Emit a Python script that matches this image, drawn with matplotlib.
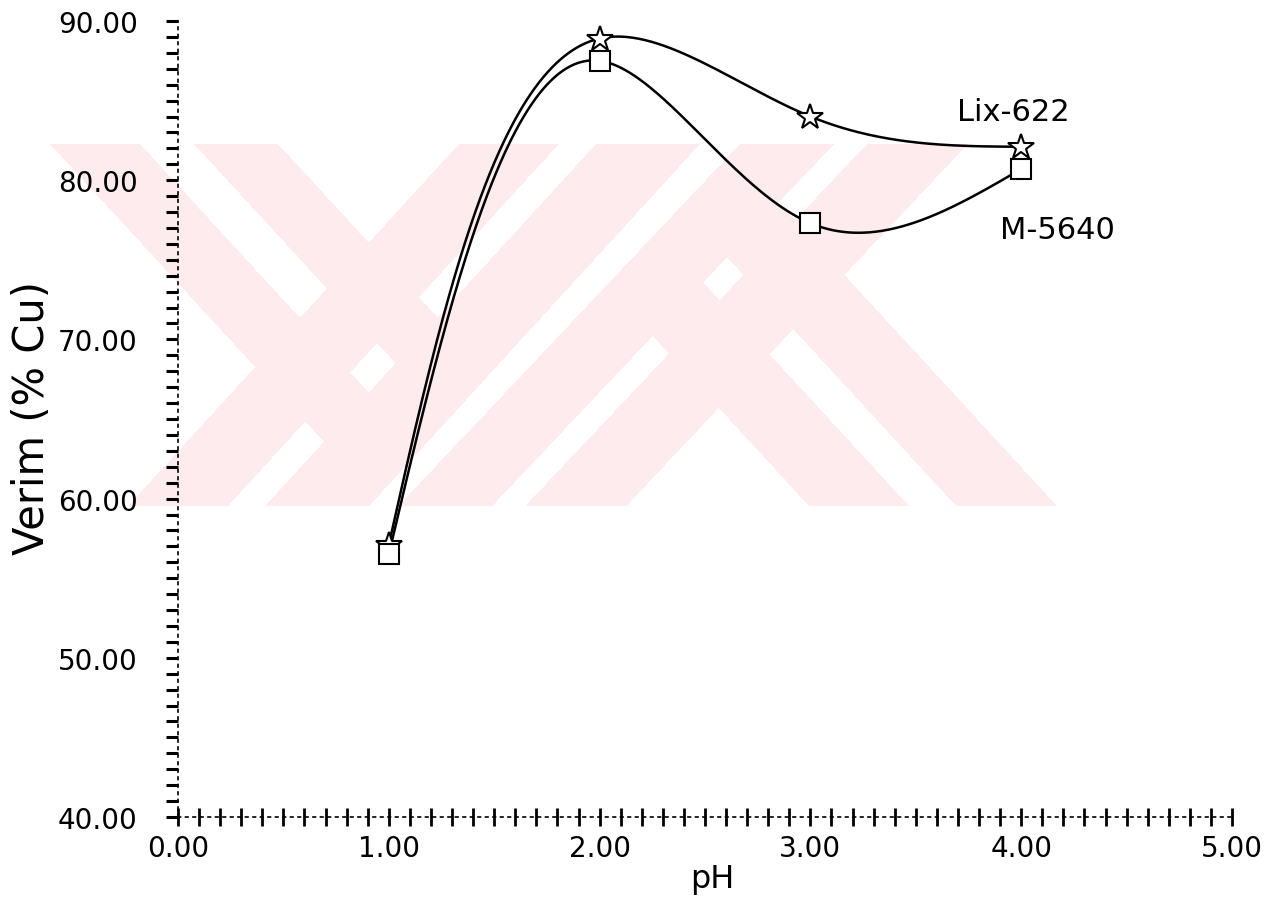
import numpy as np
import matplotlib
matplotlib.use("Agg")
import matplotlib.pyplot as plt
from matplotlib.ticker import MultipleLocator, FormatStrFormatter

# ---- data ----
ph = [1.0, 2.0, 3.0, 4.0]
lix622 = [57.1, 88.9, 84.0, 82.1]
m5640 = [56.5, 87.5, 77.3, 80.7]
xticks = [0, 1, 2, 3, 4, 5]
yticks = [40, 50, 60, 70, 80, 90]
series_names = ["Lix-622", "M-5640"]

plt.rcParams['font.family'] = ['DejaVu Sans']

W, H = 1286, 912
fig = plt.figure(figsize=(W / 100, H / 100), dpi=100)

# ---- pale watermark (decorative background) ----
bg = fig.add_axes([0, 0, 1, 1], zorder=0)
bg.set_xlim(0, W)
bg.set_ylim(H, 0)
bg.axis('off')
Yg, Xg = np.mgrid[0:H, 0:W] + 0.5
top, bot = 145, 507


def stripe(xl, xr, s):
    off = s * (Yg - top)
    return (Xg >= xl + off) & (Xg <= xr + off)


s1, s2, s3, s4 = 0.92, -0.914, 0.92, -0.944
S1 = (stripe(50, 140, s1) | stripe(194, 278, s1)) & (Xg <= 700 + s2 * (Yg - top))
S2 = stripe(459, 559, s2) | stripe(596, 700, s2)
S3 = (stripe(476, 576, s3) | stripe(623, 724, s3)) & (Xg >= 740 + s4 * (Yg - top))
S4 = stripe(740, 834, s4) | stripe(867, 968, s4)
mask = (S1 | S2 | S3 | S4) & (Yg >= top) & (Yg <= bot)
img = np.ones((H, W, 4))
img[..., 3] = 0
pink = np.array([253, 235, 238]) / 255.0
img[mask, :3] = pink
img[mask, 3] = 1
bg.imshow(img, extent=[0, W, H, 0], interpolation='nearest', aspect='auto')

# ---- main axes ----
ax = fig.add_axes([178 / W, 1 - 818 / H, (1232 - 178) / W, (818 - 22) / H], zorder=1)
ax.patch.set_alpha(0)
ax.set_xlim(0, 5)
ax.set_ylim(40, 90)


def natural_coeffs(t, y):
    k = len(t)
    h = np.diff(t)
    A = np.zeros((k, k))
    r = np.zeros(k)
    A[0, 0] = A[-1, -1] = 1
    for i in range(1, k - 1):
        A[i, i - 1] = h[i - 1]
        A[i, i] = 2 * (h[i - 1] + h[i])
        A[i, i + 1] = h[i]
        r[i] = 6 * ((y[i + 1] - y[i]) / h[i] - (y[i] - y[i - 1]) / h[i - 1])
    return np.linalg.solve(A, r)


def eval_spline(t, y, M, ts):
    h = np.diff(t)
    out = np.empty_like(ts)
    for j, tv in enumerate(ts):
        i = min(max(np.searchsorted(t, tv, side='right') - 1, 0), len(t) - 2)
        t1 = t[i + 1] - tv
        t0 = tv - t[i]
        out[j] = (M[i] * t1 ** 3 / (6 * h[i]) + M[i + 1] * t0 ** 3 / (6 * h[i])
                  + (y[i] / h[i] - M[i] * h[i] / 6) * t1
                  + (y[i + 1] / h[i] - M[i + 1] * h[i] / 6) * t0)
    return out


def smooth_curve(xv, yv, n=500, alpha=0.6):
    # parametric natural spline drawn in display space
    P = ax.transData.transform(np.column_stack([xv, yv]))
    d = np.sqrt((np.diff(P, axis=0) ** 2).sum(axis=1)) ** alpha
    t = np.concatenate([[0], np.cumsum(d)])
    ts = np.linspace(0, t[-1], n)
    cx = eval_spline(t, P[:, 0], natural_coeffs(t, P[:, 0]), ts)
    cy = eval_spline(t, P[:, 1], natural_coeffs(t, P[:, 1]), ts)
    return ax.transData.inverted().transform(np.column_stack([cx, cy]))


for vals, mk, ms in [(lix622, '*', 19), (m5640, 's', 14)]:
    c = smooth_curve(ph, vals)
    ax.plot(c[:, 0], c[:, 1], color='black', lw=1.8, zorder=3)
    ax.plot(ph, vals, linestyle='none', marker=mk, ms=ms, mfc='white',
            mec='black', mew=1.5, zorder=4)

ax.text(3.695, 84.3, series_names[0], fontsize=22, ha='left', va='center')
ax.text(3.9, 76.9, series_names[1], fontsize=22, ha='left', va='center')

# ---- axes styling ----
for side in ['top', 'right']:
    ax.spines[side].set_visible(False)
for side in ['left', 'bottom']:
    ax.spines[side].set_linestyle((0, (1.5, 3)))
    ax.spines[side].set_linewidth(1.2)

ax.set_xticks(xticks)
ax.set_yticks(yticks)
ax.xaxis.set_major_formatter(FormatStrFormatter('%.2f'))
ax.yaxis.set_major_formatter(FormatStrFormatter('%.2f'))
ax.xaxis.set_minor_locator(MultipleLocator(0.1))
ax.yaxis.set_minor_locator(MultipleLocator(1))
ax.tick_params(axis='x', which='both', direction='inout', length=13, width=2.0,
               labelsize=20, pad=6)
ax.tick_params(axis='y', which='both', direction='out', length=9, width=2.2,
               labelsize=20, pad=20)

fig.text(712 / W, 1 - 880 / H, 'pH', fontsize=23, ha='center', va='center')
fig.text(32 / W, 1 - 418 / H, 'Verim (% Cu)', fontsize=30, ha='center',
         va='center', rotation=90)

fig.savefig('out.png', dpi=100)
